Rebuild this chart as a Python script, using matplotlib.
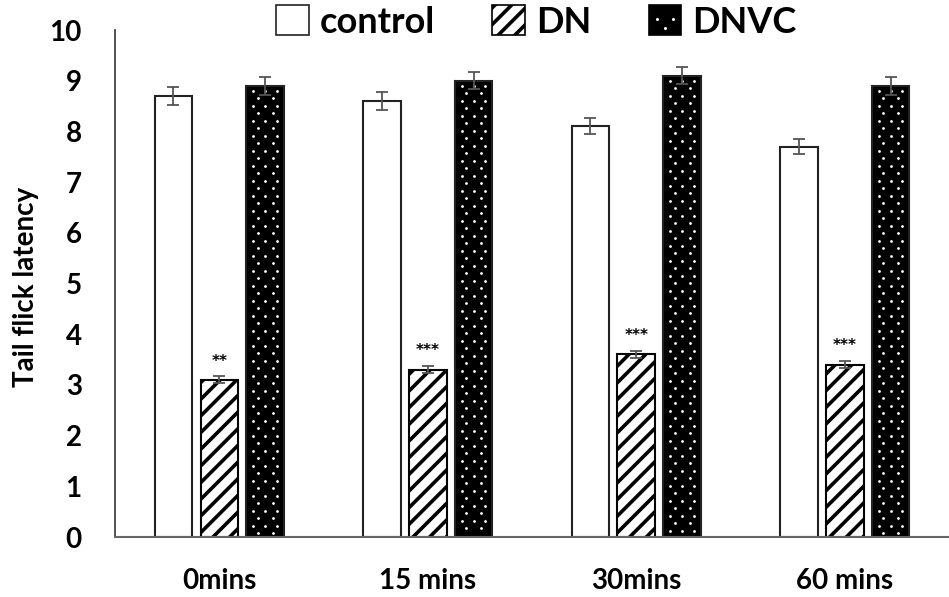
import numpy as np
import matplotlib
matplotlib.use("Agg")
import matplotlib.pyplot as plt
from matplotlib.patches import Patch

# Data
categories = ["0mins", "15 mins", "30mins", "60 mins"]
control = [8.7, 8.6, 8.1, 7.7]
control_err = [0.18, 0.17, 0.16, 0.15]
dn = [3.1, 3.3, 3.6, 3.4]
dn_err = [0.07, 0.07, 0.07, 0.07]
dnvc = [8.9, 9.0, 9.1, 8.9]
dnvc_err = [0.18, 0.17, 0.17, 0.18]
stars = ["**", "***", "***", "***"]

plt.rcParams['font.family'] = ['Lato', 'DejaVu Sans']
plt.rcParams['font.weight'] = 'bold'
plt.rcParams['hatch.linewidth'] = 2.6

fig = plt.figure(figsize=(9.49, 5.97), dpi=100)
ax = fig.add_axes([0.1212, 0.1005, 0.8788, 0.8492])

x = np.arange(len(categories))
width = 0.18
offset = 0.22
err_kw = dict(ecolor='#555555', elinewidth=1.3, capsize=4.5, capthick=1.3)

ax.set_xlim(-0.5, 3.5)
ax.set_ylim(0, 10)

# control: plain white bars
ax.bar(x - offset, control, width, color='white', edgecolor='#222222',
       linewidth=1.5, yerr=control_err, error_kw=err_kw, zorder=2)

# DN: white with thick black diagonal hatch
dn_bars = ax.bar(x, dn, width, color='white', edgecolor='black', hatch='//',
                 linewidth=1.5, zorder=2)
ax.errorbar(x, dn, yerr=dn_err, fmt='none', zorder=3, **err_kw)


def dot_grid(bars, trans):
    # staggered white dot texture laid out in pixel space inside each bar
    xs, ys = [], []
    for p in bars:
        (x0, y0), (x1, y1) = trans.transform(
            [(p.get_x(), p.get_y()), (p.get_x() + p.get_width(), p.get_y() + p.get_height())])
        mid = (x0 + x1) / 2
        row = 0
        py = y1 - 5
        while py > y0 + 3:
            cols = [x0 + 7, mid, x1 - 7] if row % 2 == 0 else [mid - 7.5, mid + 7.5]
            for px in cols:
                xs.append(px)
                ys.append(py)
            py -= 7.5
            row += 1
    return np.column_stack([xs, ys])


# DNVC: black with white dots
dnvc_bars = ax.bar(x + offset, dnvc, width, color='black', edgecolor='#222222',
                   linewidth=1.5, zorder=2)
pts = ax.transData.inverted().transform(dot_grid(dnvc_bars, ax.transData))
ax.scatter(pts[:, 0], pts[:, 1], s=4, color='white', linewidths=0, zorder=2.5)
ax.errorbar(x + offset, dnvc, yerr=dnvc_err, fmt='none', zorder=3, **err_kw)

for xi, v, e, s in zip(x, dn, dn_err, stars):
    ax.text(xi, v + e + 0.3, s, ha='center', va='center',
            fontsize=11, fontweight='bold', family='DejaVu Sans')

ax.set_yticks(range(0, 11))
ax.set_xticks(x)
ax.set_xticklabels(categories)
ax.tick_params(axis='both', length=0, labelsize=20)
ax.tick_params(axis='y', pad=24)
ax.tick_params(axis='x', pad=22)
for lab in ax.get_xticklabels() + ax.get_yticklabels():
    lab.set_fontweight('bold')

ax.spines['top'].set_visible(False)
ax.spines['right'].set_visible(False)
ax.spines['left'].set_color('#333333')
ax.spines['left'].set_linewidth(1.2)
ax.spines['bottom'].set_color('#666666')
ax.spines['bottom'].set_linewidth(1.5)

fig.text(0.027, 0.52, "Tail flick latency", rotation=90, ha='center',
         va='center', fontsize=20, fontweight='bold')

h1 = Patch(facecolor='white', edgecolor='#222222', linewidth=1.2)
h2 = Patch(facecolor='white', edgecolor='black', hatch='//', linewidth=1.2)
h3 = Patch(facecolor='black', edgecolor='black', linewidth=1.2)
leg = fig.legend([h1, h2, h3], ["control", "DN", "DNVC"], loc='center',
                 bbox_to_anchor=(0.565, 0.963), ncol=3, frameon=False,
                 prop={'weight': 'bold', 'size': 26},
                 handlelength=0.9, handleheight=0.9, handletextpad=0.3,
                 columnspacing=1.6)

# a few white dots on the DNVC legend square
fig.canvas.draw()
box = leg.legend_handles[2].get_window_extent()
cx, cy = (box.x0 + box.x1) / 2, (box.y0 + box.y1) / 2
q = box.width / 4
leg_dots = fig.transFigure.inverted().transform(
    [(cx - q, cy + q * 0.2), (cx + q, cy + q * 0.2), (cx, cy - q)])
fig.add_artist(plt.Line2D(leg_dots[:, 0], leg_dots[:, 1], ls='none', marker='o',
                          ms=2.2, mfc='white', mec='none', zorder=10))

fig.savefig("out.png", dpi=100)
